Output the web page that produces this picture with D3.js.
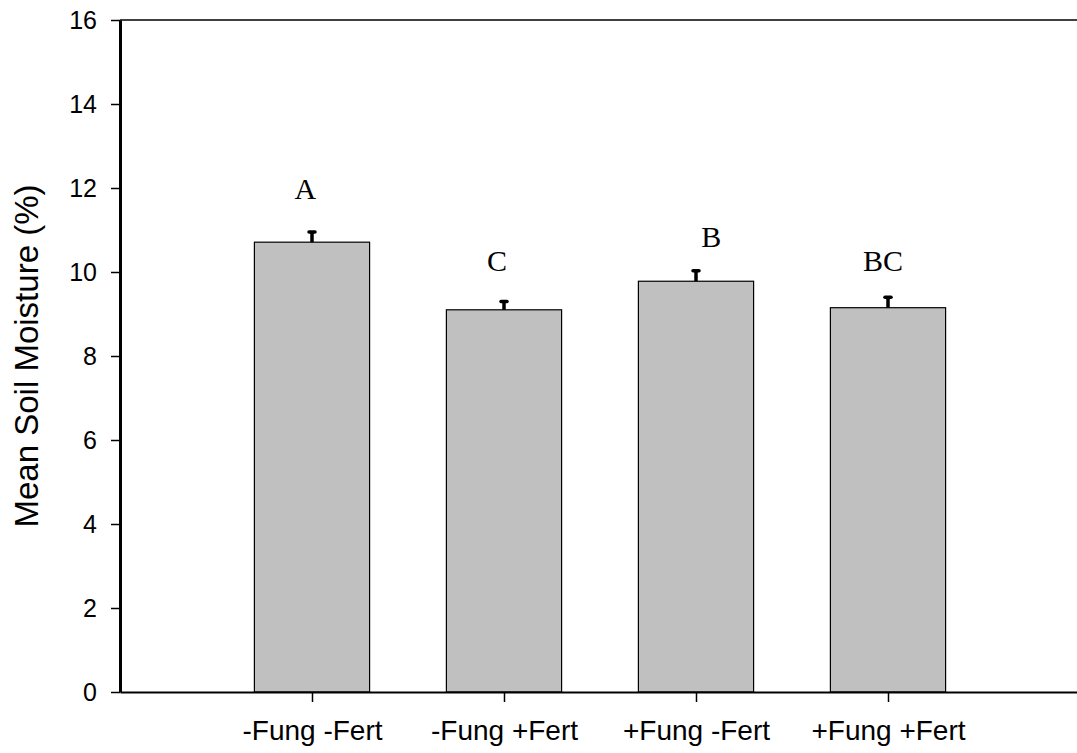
<!DOCTYPE html>
<html>
<head>
<meta charset="utf-8">
<script src="https://cdn.jsdelivr.net/npm/d3@7"></script>
<style>
  body { margin: 0; background: #fff; }
  svg { display: block; }
</style>
</head>
<body>
<div id="chart"></div>
<script>
// data
var categories = ["-Fung -Fert", "-Fung +Fert", "+Fung -Fert", "+Fung +Fert"];
var moisture = [10.71, 9.1, 9.78, 9.15];
var stdErr = [0.24, 0.2, 0.25, 0.25];
var letters = ["A", "C", "B", "BC"];
var letterX = [0.965, 1.963, 3.08, 3.974]; // where the letters sit, in x units
var letterY = [11.74, 10.02, 10.6, 10.02];
var yTicks = [0, 2, 4, 6, 8, 10, 12, 14, 16];

var W = 1077, H = 753;
var svg = d3.select("#chart").append("svg")
  .attr("width", W)
  .attr("height", H);

// x goes 0..5 like the original plot, bars sit at 1..4
var x = d3.scaleLinear().domain([0, 5]).range([120, 1080]);
var y = d3.scaleLinear().domain([0, 16]).range([692, 20]);
var barW = (x(1) - x(0)) * 0.6;

// bars
svg.selectAll("rect.bar")
  .data(moisture)
  .enter()
  .append("rect")
  .attr("class", "bar")
  .attr("x", function (d, i) { return x(i + 1) - barW / 2; })
  .attr("y", function (d) { return y(d); })
  .attr("width", barW)
  .attr("height", function (d) { return y(0) - y(d); })
  .attr("fill", "#c0c0c0")
  .attr("stroke", "#000")
  .attr("stroke-width", 1.2);

// error bars (upper only)
svg.selectAll("line.err")
  .data(moisture)
  .enter()
  .append("line")
  .attr("class", "err")
  .attr("x1", function (d, i) { return x(i + 1); })
  .attr("x2", function (d, i) { return x(i + 1); })
  .attr("y1", function (d) { return y(d); })
  .attr("y2", function (d, i) { return y(d + stdErr[i]); })
  .attr("stroke", "#000")
  .attr("stroke-width", 3.5);
svg.selectAll("line.cap")
  .data(moisture)
  .enter()
  .append("line")
  .attr("class", "cap")
  .attr("x1", function (d, i) { return x(i + 1) - 3; })
  .attr("x2", function (d, i) { return x(i + 1) + 3; })
  .attr("y1", function (d, i) { return y(d + stdErr[i]); })
  .attr("y2", function (d, i) { return y(d + stdErr[i]); })
  .attr("stroke", "#000")
  .attr("stroke-width", 3.5)
  .attr("stroke-linecap", "round");

// significance letters
svg.selectAll("text.letter")
  .data(letters)
  .enter()
  .append("text")
  .attr("class", "letter")
  .attr("x", function (d, i) { return x(letterX[i]); })
  .attr("y", function (d, i) { return y(letterY[i]); })
  .attr("text-anchor", "middle")
  .style("font-family", "'Liberation Serif', 'Times New Roman', serif")
  .style("font-size", "30px")
  .text(function (d) { return d; });

// top frame line
svg.append("line")
  .attr("x1", x(0)).attr("x2", x(5))
  .attr("y1", y(16)).attr("y2", y(16))
  .attr("stroke", "#000")
  .attr("stroke-width", 1.5);

// x axis
var xAxis = svg.append("g")
  .attr("transform", "translate(0," + y(0) + ")")
  .call(d3.axisBottom(x)
    .tickValues([1, 2, 3, 4])
    .tickSize(10)
    .tickSizeOuter(0)
    .tickPadding(18)
    .tickFormat(function (d) { return categories[d - 1]; }));
xAxis.select(".domain").attr("stroke-width", 2);
xAxis.selectAll(".tick line").attr("stroke-width", 1.5);
xAxis.selectAll("text")
  .style("font-family", "'Liberation Sans', Arial, sans-serif")
  .style("font-size", "28px")
  .attr("fill", "#000");

// y axis
var yAxis = svg.append("g")
  .attr("transform", "translate(" + x(0) + ",0)")
  .call(d3.axisLeft(y)
    .tickValues(yTicks)
    .tickSize(9)
    .tickSizeOuter(0)
    .tickPadding(14)
    .tickFormat(d3.format("d")));
yAxis.select(".domain").attr("stroke-width", 3);
yAxis.selectAll(".tick line").attr("stroke-width", 1.5);
yAxis.selectAll("text")
  .style("font-family", "'Liberation Sans', Arial, sans-serif")
  .style("font-size", "25px")
  .attr("fill", "#000");

// y axis title
svg.append("text")
  .attr("transform", "translate(38," + y(8) + ") rotate(-90)")
  .attr("text-anchor", "middle")
  .style("font-family", "'Liberation Sans', Arial, sans-serif")
  .style("font-size", "33px")
  .text("Mean Soil Moisture (%)");
</script>
</body>
</html>
